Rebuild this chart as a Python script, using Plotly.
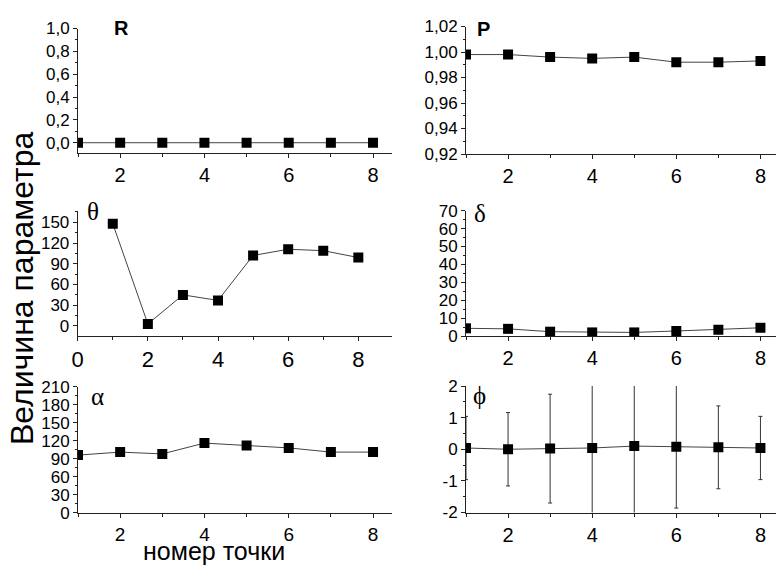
import plotly.graph_objects as go

# ---------------- data ----------------
points = [1, 2, 3, 4, 5, 6, 7, 8]
R_vals = [0, 0, 0, 0, 0, 0, 0, 0]
P_vals = [0.998, 0.998, 0.996, 0.995, 0.996, 0.992, 0.992, 0.993]
theta_vals = [148, 3, 45, 37, 102, 111, 109, 99]
delta_vals = [4.3, 4.0, 2.4, 2.0, 2.0, 2.8, 3.5, 4.6]
alpha_vals = [96, 101, 98, 116, 112, 108, 101, 101]
phi_vals = [0.04, 0.0, 0.02, 0.04, 0.1, 0.08, 0.06, 0.04]
phi_err = [1.0, 1.16, 1.72, 2.5, 2.5, 1.94, 1.31, 1.0]

x_ticks = [2, 4, 6, 8]
x_ticks_theta = [0, 2, 4, 6, 8]
R_ticks = [0.0, 0.2, 0.4, 0.6, 0.8, 1.0]
R_ticklabels = ["0,0", "0,2", "0,4", "0,6", "0,8", "1,0"]
P_ticks = [0.92, 0.94, 0.96, 0.98, 1.00, 1.02]
P_ticklabels = ["0,92", "0,94", "0,96", "0,98", "1,00", "1,02"]
theta_ticks = [0, 30, 60, 90, 120, 150]
delta_ticks = [0, 10, 20, 30, 40, 50, 60, 70]
alpha_ticks = [0, 30, 60, 90, 120, 150, 180, 210]
phi_ticks = [-2, -1, 0, 1, 2]

y_title = "Величина параметра"
x_title = "номер точки"

W, H = 776, 566
SANS = "Liberation Sans, Arial, sans-serif"
YTICKFONT = dict(family=SANS, size=17, color="black")
AXCOL = "#222222"
LINECOL = "#444444"


def xd(a, b):
    return [a / W, b / W]


def yd(top, bottom):
    return [1 - bottom / H, 1 - top / H]


fig = go.Figure()

panels = [
    # name, y, xdomain px, ydomain px, xrange, yrange, xticks, yticks, yticklabels, yminor, xfont
    ("R", R_vals, (78, 392), (28.5, 153), [1, 8.45], [-0.09, 1.0], x_ticks,
     R_ticks, R_ticklabels, 0.1, 20),
    ("P", P_vals, (466, 776), (26.5, 154), [1, 8.37], [0.92, 1.02], x_ticks,
     P_ticks, P_ticklabels, 0.01, 20),
    ("θ", theta_vals, (77.7, 392), (210.7, 336), [0, 8.96], [-14.5, 166.8], x_ticks_theta,
     theta_ticks, [str(v) for v in theta_ticks], 15, 22),
    ("δ", delta_vals, (466, 776), (210.7, 336), [1, 8.37], [0, 70], x_ticks,
     delta_ticks, [str(v) for v in delta_ticks], 5, 20),
    ("α", alpha_vals, (78, 392), (386.7, 512.7), [1, 8.45], [0, 210], x_ticks,
     alpha_ticks, [str(v) for v in alpha_ticks], 15, 19),
    ("ϕ", phi_vals, (466, 776), (386, 512.5), [1, 8.37], [-2, 2], x_ticks,
     phi_ticks, [str(v) for v in phi_ticks], 0.5, 20),
]

for i, (name, yv, xpx, ypx, xr, yr, xt, yt, ytl, ymin, xfs) in enumerate(panels):
    n = "" if i == 0 else str(i + 1)
    trace = dict(
        x=points, y=yv, mode="lines+markers",
        line=dict(color=LINECOL, width=1),
        marker=dict(symbol="square", size=10, color="black"),
        xaxis="x" + n, yaxis="y" + n, showlegend=False, cliponaxis=True,
    )
    if name == "ϕ":
        trace["error_y"] = dict(type="data", array=phi_err, visible=True,
                                color="#333333", thickness=1, width=2)
    fig.add_trace(go.Scatter(**trace))

    xminor = [v for v in range(0, 10) if v not in xt and xr[0] <= v <= xr[1]]
    yminor_vals = []
    v = yt[0] - ymin
    while v <= yr[1] + 1e-9:
        if v >= yr[0] - 1e-9 and all(abs(v - t) > 1e-9 for t in yt):
            yminor_vals.append(round(v, 6))
        v += ymin
    fig.layout["xaxis" + n] = dict(
        domain=xd(*xpx), range=xr, anchor="y" + n,
        tickmode="array", tickvals=xt, ticktext=[str(t) for t in xt],
        ticks="outside", ticklen=4, tickwidth=1, tickcolor=AXCOL,
        showline=True, linecolor=AXCOL, linewidth=1,
        showgrid=False, zeroline=False, automargin=False,
        tickfont=dict(family=SANS, size=xfs, color="black"),
        minor=dict(tickmode="array", tickvals=xminor, ticks="outside",
                   ticklen=3, tickcolor=AXCOL, showgrid=False),
    )
    fig.layout["yaxis" + n] = dict(
        domain=yd(*ypx), range=yr, anchor="x" + n,
        tickmode="array", tickvals=yt, ticktext=ytl,
        ticks="outside", ticklen=4, tickwidth=1, tickcolor=AXCOL,
        showline=True, linecolor=AXCOL, linewidth=1,
        showgrid=False, zeroline=False, tickfont=YTICKFONT, automargin=False,
        minor=dict(tickmode="array", tickvals=yminor_vals, ticks="outside",
                   ticklen=2, tickcolor=AXCOL, showgrid=False),
    )

# panel labels
SERIF = dict(family="Liberation Serif, Times New Roman, serif", size=25, color="black")
SANSB = dict(family=SANS, size=20, color="black")
labels = [
    ("R", 121.7, 27.5, SANSB, True),
    ("P", 483, 29, SANSB, True),
    ("θ", 92.5, 211.5, SERIF, False),
    ("δ", 480, 213, SERIF, False),
    ("α", 97.5, 396.5, SERIF, False),
    ("ϕ", 479.5, 395, SERIF, False),
]
annotations = []
for txt, px, py, font, bold in labels:
    annotations.append(dict(
        text=("<b>%s</b>" % txt) if bold else txt,
        x=px / W, y=1 - py / H, xref="paper", yref="paper",
        xanchor="center", yanchor="middle", showarrow=False, font=font,
    ))

annotations.append(dict(
    text=y_title, x=22 / W, y=1 - 289 / H, xref="paper", yref="paper",
    xanchor="center", yanchor="middle", showarrow=False, textangle=-90,
    font=dict(family=SANS, size=32, color="black"),
))
annotations.append(dict(
    text=x_title, x=214 / W, y=0, xref="paper", yref="paper",
    xanchor="center", yanchor="bottom", showarrow=False, borderpad=0,
    font=dict(family=SANS, size=25, color="black"),
))

fig.update_layout(
    width=W, height=H, margin=dict(l=0, r=0, t=0, b=0, pad=0),
    paper_bgcolor="white", plot_bgcolor="white",
    annotations=annotations, showlegend=False,
)

fig.write_html(
    "out.html",
    config={"displayModeBar": False},
    post_script="document.body.style.margin='0';document.body.style.overflow='hidden';",
)
